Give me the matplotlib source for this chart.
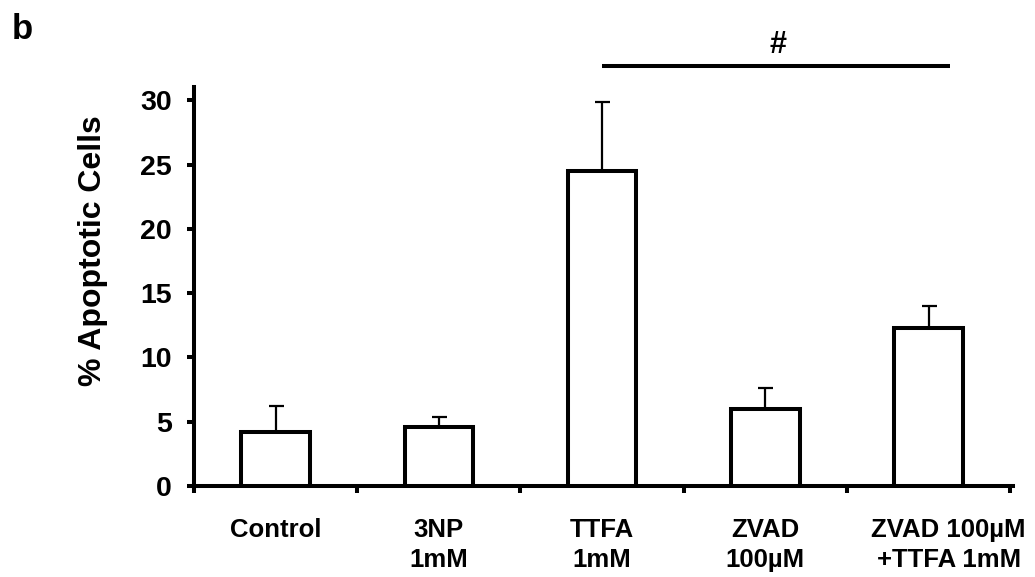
import numpy as np
import matplotlib.pyplot as plt
import matplotlib.transforms as mtransforms

# % apoptotic cells per treatment, mean and upper error (SD)
groups = ['Control', '3NP\n1mM', 'TTFA\n1mM', 'ZVAD\n100µM', 'ZVAD 100µM\n+TTFA 1mM']
means = [4.2, 4.6, 24.5, 6.0, 12.3]
errors = [2.0, 0.8, 5.4, 1.6, 1.7]

# significance bracket between TTFA and ZVAD+TTFA
sig_from, sig_to = 2, 4.13
sig_level = 32.7
sig_mark = '#'

plt.rcParams['font.family'] = ['Liberation Sans', 'DejaVu Sans']
plt.rcParams['font.weight'] = 'bold'

fig = plt.figure(figsize=(10.35, 5.77), dpi=100)
ax = fig.add_axes([0.1874, 0.1577, 0.7918, 0.692])

x = np.arange(len(groups))

# upward-only error bars, drawn under the bars
ax.errorbar(x, means, yerr=[np.zeros(len(means)), errors], fmt='none',
            ecolor='black', elinewidth=1.6, capsize=5.4, capthick=1.6, zorder=2)
ax.bar(x, means, width=0.42, color='white', edgecolor='black', linewidth=2.9, zorder=3)

ax.set_xlim(-0.5, 4.52)
ax.set_ylim(0, 31.07)
ax.set_yticks([0, 5, 10, 15, 20, 25, 30])

ax.set_xticks(x)
ax.set_xticklabels(groups, fontsize=18.5, fontweight='bold', linespacing=1.3)
ax.set_xticks(np.arange(-0.5, 5, 1), minor=True)
ax.tick_params(axis='x', which='major', length=0, pad=23)
ax.tick_params(axis='x', which='minor', length=5, width=2.9, direction='out')
ax.tick_params(axis='y', length=5, width=2.9, direction='out', labelsize=20.5, pad=11)
for lbl in ax.get_yticklabels():
    lbl.set_fontweight('bold')

# the last, widest label sits a little to the right
last = ax.get_xticklabels()[-1]
last.set_transform(last.get_transform() +
                   mtransforms.ScaledTranslation(0.2, 0, fig.dpi_scale_trans))

for side in ['top', 'right']:
    ax.spines[side].set_visible(False)
for side in ['left', 'bottom']:
    ax.spines[side].set_linewidth(2.9)

ax.set_ylabel('% Apoptotic Cells', fontsize=23, fontweight='bold')
ax.yaxis.set_label_coords(-0.105, 0.589)

# significance line and mark
ax.plot([sig_from, sig_to], [sig_level, sig_level], color='black', lw=2.9,
        clip_on=False, solid_capstyle='butt')
ax.text(3.077, 34.3, sig_mark, ha='center', va='center', fontsize=22,
        fontweight='bold')

fig.text(0.011, 0.978, 'b', ha='left', va='top', fontsize=25, fontweight='bold')

fig.savefig('out.png', dpi=100)
